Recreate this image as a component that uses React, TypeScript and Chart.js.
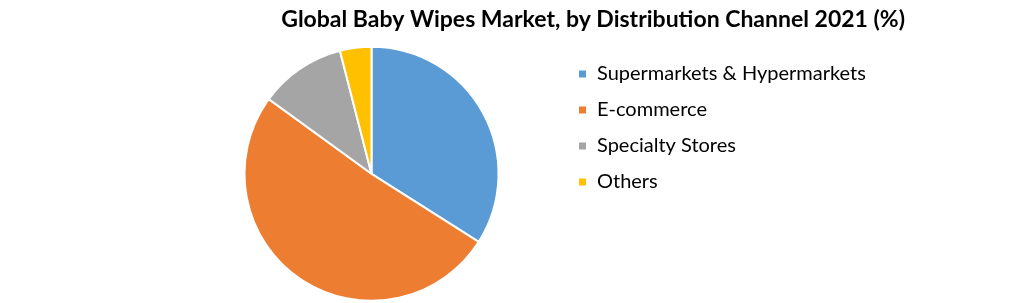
import React, { useEffect, useRef } from "react";
import { Chart, registerables } from "chart.js";

Chart.register(...registerables);

const categories = ["Supermarkets & Hypermarkets", "E-commerce", "Specialty Stores", "Others"];
const shares = [34, 51, 11, 4];
const colors = ["#5B9BD5", "#ED7D31", "#A5A5A5", "#FFC000"];
const titleText = "Global Baby Wipes Market, by Distribution Channel 2021 (%)";

const LEGEND_LEFT = 562;
const LEGEND_TOP = 48;
const LEGEND_WIDTH = 420;

const legendPlacer = {
  id: "legendPlacer",
  afterLayout(chart: any) {
    const lg = chart.legend;
    if (!lg) return;
    lg.left = LEGEND_LEFT;
    lg.right = LEGEND_LEFT + LEGEND_WIDTH;
    lg.width = LEGEND_WIDTH;
    lg.top = LEGEND_TOP;
    lg.bottom = 303;
    lg.height = 303 - LEGEND_TOP;
  },
};

export default function App() {
  const ref = useRef<HTMLCanvasElement | null>(null);
  useEffect(() => {
    if (!ref.current) return;
    const chart = new Chart(ref.current, {
      type: "pie",
      data: {
        labels: categories,
        datasets: [
          {
            data: shares,
            backgroundColor: colors,
            borderColor: "#ffffff",
            borderWidth: 2,
            radius: 127,
            clip: false,
          } as any,
        ],
      },
      options: {
        responsive: false,
        animation: false,
        events: [],
        layout: { padding: { left: 88, right: 115, top: 0, bottom: 0 } },
        plugins: {
          tooltip: { enabled: false },
          title: {
            display: true,
            text: titleText,
            align: "end",
            color: "#000000",
            font: { family: "Lato", size: 23, weight: "bold" },
            padding: { top: 6, bottom: 11 },
          },
          legend: {
            display: true,
            position: "right",
            align: "start",
            maxWidth: 250,
            labels: {
              boxWidth: 9,
              boxHeight: 9,
              padding: 16,
              color: "#000000",
              font: { family: "Lato", size: 20 },
            },
          },
        },
      },
      plugins: [legendPlacer],
    });
    return () => chart.destroy();
  }, []);
  return (
    <div style={{ position: "absolute", left: 0, top: 0, width: 1020, height: 303, background: "#fff" }}>
      <canvas ref={ref} width={1020} height={303} />
    </div>
  );
}
